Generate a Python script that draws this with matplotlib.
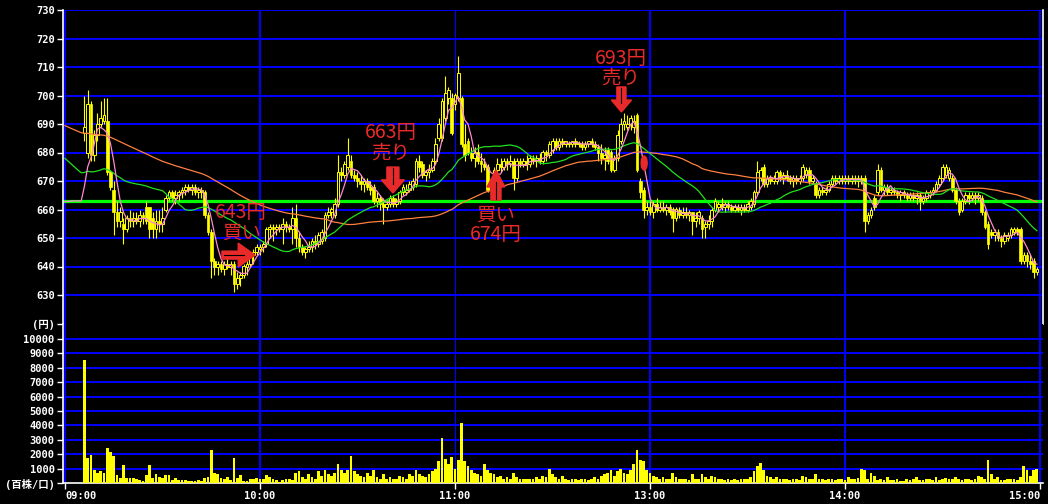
import numpy as np
import pandas as pd
import matplotlib
matplotlib.use('Agg')
import matplotlib.pyplot as plt
from matplotlib.patches import FancyArrow, Ellipse

# 1-minute bars, index 0 = 09:00, 300 = 15:00 (lunch removed)
first_bar = 6
prev_close = 663
# previous day's last 75 closes (seed for the moving averages)
prev_closes = [702, 703, 701, 700, 699, 700, 701, 699, 698, 697, 698, 699, 700, 698, 697,
               696, 697, 698, 697, 696, 695, 696, 697, 696, 695, 694, 695, 696, 695, 694,
               693, 694, 695, 694, 693, 692, 693, 694, 693, 692, 691, 692, 693, 692, 691,
               690, 691, 690, 689, 690,
               690, 689, 690, 688, 688, 687, 686, 686, 685, 684, 684, 683, 682, 681, 680,
               679, 678, 676, 674, 670, 665, 663, 662, 663, 663]

opens = [687, 680, 697, 679, 686, 690, 691, 691, 673, 667,
         659, 656, 655, 653, 657, 656, 657, 656, 658, 661,
         661, 657, 653, 656, 655, 660, 664, 666, 664, 665,
         666, 667, 668, 667, 668, 666, 667, 666, 658, 652,
         642, 640, 641, 639, 641, 640, 641, 634, 636, 637,
         640, 641, 644, 645, 646, 647, 648, 653, 654, 653,
         654, 653, 655, 654, 653, 657, 650,
         647, 645, 646, 647, 649, 648, 649, 650, 658, 659,
         658, 662, 673, 672, 675, 677, 672, 671, 670, 669,
         670, 668, 668, 663, 664, 662, 661, 662, 664, 662,
         663, 666, 666, 667, 668, 669, 677, 676, 672, 673,
         674, 677, 685, 685, 692, 699, 699, 697, 699, 699,
         683, 684, 680, 678, 680, 677, 676, 675, 667, 670,
         674, 676, 675, 677, 676, 677, 671, 677, 676, 677,
         676, 678, 677, 678, 677, 680, 679, 681, 684, 682,
         684, 683, 683, 683, 684, 683, 683, 682, 683, 684,
         683, 682, 680, 678, 681, 680, 674, 678, 684, 690,
         689, 690, 689, 693, 670, 667, 660, 661, 659, 662,
         660, 661, 660, 661, 660, 657, 660, 658, 659, 658,
         659, 656, 657, 657, 654, 655, 656, 660, 661, 662,
         661, 662, 661, 660, 661, 660, 661, 660, 661, 662,
         666, 671, 675, 669, 671, 670, 670, 673, 671, 672,
         671, 670, 671, 670, 671, 672, 674, 670, 669, 665,
         667, 666, 667, 669, 671, 670, 671, 670, 671, 670,
         671, 670, 671, 671, 656, 658, 664, 666, 674, 667,
         668, 666, 667, 666, 665, 666, 665, 664, 665, 664,
         665, 663, 664, 665, 666, 667, 669, 671, 672, 671,
         671, 667, 663, 660, 663, 665, 664, 665, 664, 664,
         659, 655, 652, 651, 652, 650, 649, 650, 651, 652,
         653, 653, 642, 644, 642, 642, 638]
highs = [700, 702, 698, 688, 694, 698, 699, 699, 674, 670,
         663, 661, 657, 658, 660, 659, 659, 660, 659, 663,
         661, 659, 660, 660, 661, 665, 667, 667, 667, 667,
         668, 669, 669, 669, 669, 668, 668, 667, 659, 653,
         643, 642, 642, 642, 643, 642, 642, 638, 638, 641,
         642, 645, 646, 648, 648, 649, 654, 655, 655, 655,
         655, 657, 656, 655, 661, 662, 652,
         648, 647, 649, 650, 651, 652, 653, 659, 661, 661,
         664, 679, 675, 677, 685, 679, 674, 673, 672, 671,
         671, 670, 669, 666, 665, 664, 663, 665, 665, 664,
         667, 669, 669, 670, 671, 678, 679, 677, 674, 676,
         678, 685, 692, 699, 707, 703, 701, 701, 714, 700,
         690, 685, 682, 682, 683, 680, 678, 676, 671, 675,
         678, 678, 678, 678, 679, 678, 678, 678, 678, 679,
         679, 679, 679, 680, 681, 681, 684, 685, 685, 685,
         685, 684, 684, 684, 685, 684, 684, 684, 684, 685,
         684, 683, 683, 682, 682, 681, 679, 688, 692, 694,
         693, 693, 693, 694, 671, 668, 663, 663, 663, 664,
         663, 663, 662, 662, 661, 661, 661, 661, 661, 660,
         659, 659, 660, 658, 656, 658, 661, 664, 663, 664,
         663, 663, 662, 662, 662, 662, 662, 663, 664, 667,
         677, 675, 676, 672, 672, 672, 674, 674, 673, 674,
         672, 672, 672, 672, 676, 675, 675, 672, 670, 668,
         668, 668, 670, 672, 672, 672, 672, 672, 672, 672,
         672, 672, 672, 672, 659, 661, 665, 676, 675, 669,
         669, 668, 668, 667, 667, 667, 666, 666, 666, 666,
         666, 665, 667, 667, 668, 670, 672, 676, 676, 675,
         672, 668, 664, 664, 666, 666, 666, 666, 666, 665,
         660, 656, 653, 653, 653, 651, 652, 652, 654, 654,
         654, 654, 645, 645, 644, 643, 640]
lows = [684, 678, 677, 677, 684, 689, 690, 672, 667, 651,
        654, 654, 648, 652, 654, 654, 655, 654, 655, 655,
        650, 650, 650, 652, 652, 659, 663, 663, 662, 663,
        664, 665, 666, 665, 665, 664, 664, 657, 651, 636,
        637, 637, 638, 637, 639, 637, 631, 632, 633, 636,
        637, 640, 641, 644, 644, 645, 647, 650, 649, 651,
        652, 648, 652, 652, 648, 647, 645,
        644, 643, 645, 645, 646, 647, 648, 649, 657, 657,
        657, 661, 670, 671, 674, 671, 670, 668, 667, 666,
        667, 665, 662, 661, 660, 655, 660, 661, 661, 661,
        662, 665, 665, 666, 667, 668, 673, 671, 670, 671,
        673, 676, 684, 684, 691, 697, 686, 695, 698, 682,
        677, 679, 677, 675, 676, 673, 674, 666, 665, 669,
        672, 673, 674, 674, 675, 667, 670, 675, 675, 674,
        675, 676, 675, 676, 676, 677, 678, 680, 681, 681,
        682, 682, 682, 682, 682, 682, 681, 681, 682, 682,
        681, 677, 676, 674, 676, 673, 673, 677, 683, 688,
        688, 688, 687, 673, 664, 657, 658, 658, 657, 659,
        659, 659, 658, 658, 652, 656, 657, 657, 657, 656,
        651, 654, 655, 650, 650, 653, 654, 659, 659, 660,
        659, 660, 659, 659, 659, 658, 659, 659, 660, 661,
        665, 670, 668, 668, 669, 669, 669, 670, 669, 670,
        669, 668, 669, 669, 670, 671, 669, 669, 664, 664,
        665, 665, 666, 668, 669, 669, 669, 669, 669, 669,
        669, 668, 669, 652, 655, 657, 660, 665, 666, 665,
        665, 665, 665, 664, 663, 664, 663, 663, 663, 662,
        660, 662, 663, 664, 665, 666, 668, 670, 671, 670,
        666, 662, 658, 659, 662, 662, 663, 662, 663, 658,
        653, 646, 650, 649, 649, 647, 648, 649, 650, 651,
        651, 641, 641, 640, 639, 636, 637]
closes = [689, 697, 679, 686, 690, 692, 693, 673, 668, 659,
          656, 659, 653, 657, 656, 657, 656, 658, 657, 656,
          653, 653, 656, 655, 657, 664, 666, 664, 665, 666,
          667, 668, 667, 668, 666, 667, 666, 658, 652, 642,
          640, 641, 639, 641, 640, 641, 634, 636, 637, 640,
          641, 644, 645, 647, 647, 648, 653, 654, 653, 654,
          653, 655, 654, 653, 657, 650, 647,
          645, 646, 647, 649, 648, 651, 652, 658, 659, 660,
          662, 673, 672, 676, 679, 672, 671, 670, 669, 670,
          668, 667, 663, 664, 662, 661, 662, 664, 662, 663,
          666, 668, 667, 669, 670, 677, 675, 672, 673, 674,
          677, 683, 690, 698, 701, 702, 687, 700, 708, 683,
          679, 680, 678, 680, 677, 676, 675, 667, 670, 674,
          676, 675, 677, 676, 677, 671, 677, 676, 677, 676,
          678, 677, 678, 677, 680, 679, 683, 684, 682, 684,
          683, 684, 683, 684, 683, 683, 682, 683, 684, 683,
          682, 680, 678, 679, 677, 674, 678, 686, 690, 691,
          690, 692, 691, 674, 666, 660, 661, 659, 662, 660,
          661, 660, 661, 659, 657, 660, 658, 659, 658, 659,
          656, 657, 659, 653, 655, 656, 660, 663, 662, 661,
          662, 661, 660, 661, 660, 661, 660, 662, 663, 666,
          673, 674, 669, 671, 670, 671, 673, 671, 672, 671,
          670, 671, 670, 671, 675, 674, 670, 671, 665, 667,
          666, 667, 669, 671, 670, 671, 670, 671, 670, 671,
          670, 671, 670, 656, 658, 660, 661, 674, 667, 668,
          666, 667, 666, 665, 666, 665, 664, 665, 664, 665,
          663, 664, 666, 666, 667, 669, 671, 675, 675, 674,
          667, 663, 659, 663, 665, 664, 665, 664, 665, 659,
          654, 648, 651, 652, 650, 649, 651, 651, 653, 653,
          652, 642, 644, 642, 641, 638, 639]
# volume in units of 100 shares
volumes = [8540, 1760, 1940, 900, 720, 830, 720, 2430, 2150, 1875,
           560, 350, 1250, 350, 350, 350, 300, 220, 150, 525,
           1250, 350, 650, 420, 330, 525, 560, 220, 350, 220,
           220, 220, 150, 150, 150, 220, 150, 370, 440, 2290,
           700, 650, 350, 300, 440, 200, 1740, 350, 560, 150,
           150, 300, 300, 350, 300, 300, 560, 440, 300, 220,
           100, 220, 300, 300, 220, 720, 800,
           400, 300, 600, 450, 300, 800, 500, 900, 600, 500,
           700, 1300, 900, 700, 900, 1900, 800, 600, 500, 400,
           700, 500, 900, 400, 300, 600, 300,
           400, 300, 250, 500, 400, 300, 600, 500, 900, 600,
           500, 400, 600, 800, 1000, 1500, 3100, 1700, 1300, 1800,
           1000, 1600, 4200, 1500, 1200, 900, 700, 600, 500, 1300,
           900, 700, 600, 400, 500, 300, 400, 300, 700, 400,
           300, 250, 300, 250, 300, 400, 300, 500, 400, 1000,
           600, 400, 300, 500, 300, 200, 300, 250, 200, 300,
           250, 200, 300, 400, 300, 500, 600, 700, 900, 500,
           800, 1000, 700, 600, 900, 1300, 2300, 1600, 1500, 900,
           700, 500, 400, 300, 400, 300, 300, 700, 400, 300,
           250, 300, 200, 600, 300, 250, 600, 400, 300, 500,
           400, 300, 250, 200, 300, 200, 250, 200, 300, 250,
           300, 400, 800, 1200, 1400, 900, 500, 400, 300, 400,
           300, 250, 300, 200, 300, 250, 200, 500, 400, 300,
           250, 600, 300, 250, 200, 300, 250, 200, 300, 250,
           200, 400, 300, 300, 350, 1000, 900, 300, 700, 500,
           200, 250, 200, 400, 200, 200, 300, 150, 150, 250,
           200, 300, 450, 200, 200, 250, 300, 200, 440, 200,
           300, 350, 300, 250, 400, 300, 200, 250, 300, 200,
           250, 500, 400, 300, 1600, 600, 300, 440, 200, 200,
           250, 300, 250, 200, 400, 1180, 900, 500, 900, 950]
hour_pos = [0, 60, 120, 180, 240, 300]
hour_labels = ['09:00', '10:00', '11:00', '13:00', '14:00', '15:00']
notes = [(54.2, 655.3, '643円\n買い'), (100.2, 683.3, '663円\n売り'),
         (132.6, 654.6, '買い\n674円'), (171.1, 709.6, '693円\n売り')]

RED = '#e82a2a'
YEL = '#ffff00'
BLUE = '#0000ff'
JP = ['Noto Sans CJK JP', 'DejaVu Sans']
NUM = ['DejaVu Sans Mono', 'Noto Sans CJK JP']

o, h, l, c = (np.array(a, dtype=float) for a in (opens, highs, lows, closes))
x = np.arange(first_bar, first_bar + len(c))
h = np.maximum(h, np.maximum(o, c))
l = np.minimum(l, np.minimum(o, c))

full = pd.Series(prev_closes + [prev_close] * first_bar + closes, dtype=float)
ma_x = np.arange(300)
ma5 = full.rolling(5).mean().values[-300:]
ma25 = full.rolling(25).mean().values[-300:]
ma75 = full.rolling(75).mean().values[-300:]

fig = plt.figure(figsize=(10.48, 5.04), dpi=100, facecolor='black')
ax = fig.add_axes([63 / 1048, 1 - 323.5 / 504, 980 / 1048, 313.5 / 504], facecolor='black')
axv = fig.add_axes([63 / 1048, 1 - 483 / 504, 980 / 1048, 159.5 / 504], facecolor='black')

# ---- price panel
for p in range(630, 731, 10):
    ax.axhline(p, color=BLUE, lw=1.4, zorder=1)
for xp in hour_pos:
    ax.axvline(xp, color=BLUE, lw=0.8 if xp == 120 else 1.4, zorder=1)
ax.axhline(prev_close, color='#00ff00', lw=2.3, zorder=2)

ax.vlines(x, l, h, color=YEL, lw=0.8, zorder=3)
up = c >= o
lo = np.minimum(o, c)
ht = np.maximum(np.abs(c - o), 0.35)
ax.bar(x[up], ht[up], bottom=lo[up], width=0.8, facecolor='black', edgecolor=YEL, lw=0.7, zorder=4)
ax.bar(x[~up], ht[~up], bottom=lo[~up], width=0.8, facecolor=YEL, edgecolor=YEL, lw=0.5, zorder=4)

ax.plot(ma_x, ma75, color='#ff8040', lw=0.9, zorder=5)
ax.plot(ma_x, ma25, color='#20e020', lw=0.9, zorder=5)
ax.plot(ma_x, ma5, color='#ff88d8', lw=0.9, zorder=6)

ax.set_xlim(-0.6, 300.9)
ax.set_ylim(620, 730)
ax.set_xticks(hour_pos)
ax.tick_params(axis='x', bottom=False, labelbottom=False)
ax.set_yticks(range(620, 731, 10))
ax.set_yticklabels(['(円)'] + [str(v) for v in range(630, 731, 10)],
                   family=NUM, fontweight='bold')
ax.tick_params(axis='y', colors='white', labelsize=7.5, length=4, width=1, pad=2)
for s in ('top', 'bottom'):
    ax.spines[s].set_visible(False)
for s in ('left', 'right'):
    ax.spines[s].set_color('white')
    ax.spines[s].set_linewidth(1.2)

# buy / sell notes
for nx, ny, txt in notes:
    ax.text(nx, ny, txt, color=RED, fontsize=14, ha='center', va='center',
            multialignment='center', linespacing=0.95, family=JP, zorder=10)

ax.add_patch(FancyArrow(48.3, 644, 10.2, 0, width=2.8, head_width=8.4, head_length=5.2,
                        length_includes_head=True, color=RED, zorder=9))
ax.plot([48.8, 55.0], [644, 644], color='black', lw=0.8, zorder=9.5)
ax.add_patch(FancyArrow(100.9, 674.9, 0, -9.1, width=3.7, head_width=7.1, head_length=4.6,
                        length_includes_head=True, color=RED, zorder=9))
ax.plot([100.9, 100.9], [674.6, 669.0], color='black', lw=0.8, zorder=9.5)
ax.add_patch(FancyArrow(132.6, 663.3, 0, 10.6, width=3.1, head_width=5.5, head_length=6.0,
                        length_includes_head=True, color=RED, zorder=9))
ax.plot([132.6, 132.6], [663.6, 669.5], color='black', lw=0.8, zorder=9.5)
ax.add_patch(FancyArrow(171.2, 703.0, 0, -8.8, width=2.8, head_width=6.2, head_length=4.2,
                        length_includes_head=True, color=RED, zorder=9))
ax.plot([171.2, 171.2], [702.7, 697.5], color='black', lw=0.8, zorder=9.5)
ax.add_patch(Ellipse((178.2, 676.3), 1.85, 4.9, color=RED, zorder=9))

# ---- volume panel
for v in range(1000, 10001, 1000):
    axv.axhline(v, color=BLUE, lw=1.4, zorder=1)
for xp in hour_pos:
    axv.axvline(xp, color=BLUE, lw=0.8 if xp == 120 else 1.4, zorder=1)
axv.bar(x, volumes, width=0.85, color=YEL, zorder=3)
axv.set_xlim(-0.6, 300.9)
axv.set_ylim(0, 10000 * 159.5 / 144)
axv.set_yticks(range(0, 10001, 1000))
axv.set_yticklabels(['(百株/口)'] + [str(v) for v in range(1000, 10001, 1000)],
                    family=NUM, fontweight='bold')
axv.set_xticks(hour_pos)
axv.set_xticklabels(hour_labels, family=NUM, fontweight='bold')
xl = axv.get_xticklabels()
xl[0].set_ha('left')
xl[-1].set_ha('right')
axv.tick_params(colors='white', labelsize=7.5, length=4, width=1, pad=2)
for s in ('top', 'right'):
    axv.spines[s].set_visible(False)
for s in ('left', 'bottom'):
    axv.spines[s].set_color('white')
    axv.spines[s].set_linewidth(1.2)

fig.savefig('out.png', dpi=100, facecolor='black')
